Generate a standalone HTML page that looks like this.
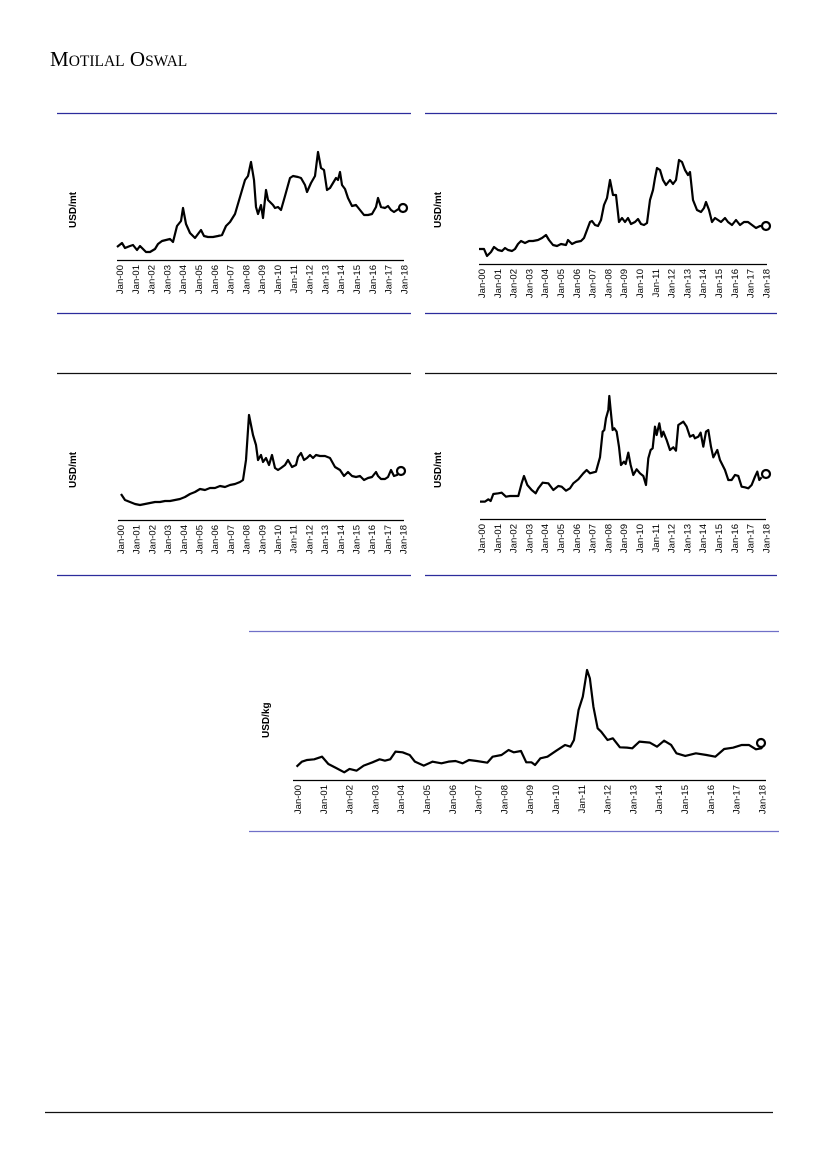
<!DOCTYPE html>
<html><head><meta charset="utf-8"><style>
body{margin:0;background:#fff}
svg{display:block}
text{font-family:"Liberation Sans",sans-serif;fill:#000}
</style></head><body>
<svg width="827" height="1169" viewBox="0 0 827 1169" xmlns="http://www.w3.org/2000/svg">
<text x="50" y="66" style="font-family:'Liberation Serif',serif" font-size="21">M<tspan font-size="15.5">OTILAL</tspan> O<tspan font-size="15.5">SWAL</tspan></text>

<!-- rules -->
<g stroke="#2c2c9c" stroke-width="1.3">
<line x1="57" y1="113.5" x2="411" y2="113.5"/><line x1="57" y1="313.5" x2="411" y2="313.5"/>
<line x1="425" y1="113.5" x2="777" y2="113.5"/><line x1="425" y1="313.5" x2="777" y2="313.5"/>
<line x1="57" y1="373.5" x2="411" y2="373.5" stroke="#111"/><line x1="57" y1="575.5" x2="411" y2="575.5"/>
<line x1="425" y1="373.5" x2="777" y2="373.5" stroke="#111"/><line x1="425" y1="575.5" x2="777" y2="575.5"/>
<line x1="249" y1="631.5" x2="779" y2="631.5" stroke="#7070c8"/><line x1="249" y1="831.5" x2="779" y2="831.5" stroke="#7070c8"/>
</g>
<line x1="45" y1="1112.5" x2="773" y2="1112.5" stroke="#111" stroke-width="1.2"/>

<!-- axes -->
<g stroke="#000" stroke-width="1.2">
<line x1="117" y1="260.5" x2="404" y2="260.5"/>
<line x1="479" y1="264.5" x2="767" y2="264.5"/>
<line x1="118" y1="520.5" x2="404" y2="520.5"/>
<line x1="480" y1="519.5" x2="766" y2="519.5"/>
<line x1="293" y1="780.5" x2="766" y2="780.5"/>
</g>

<g font-size="10" font-weight="bold">
<text transform="translate(76,228) rotate(-90)">USD/mt</text>
<text transform="translate(441,228) rotate(-90)">USD/mt</text>
<text transform="translate(76,488) rotate(-90)">USD/mt</text>
<text transform="translate(441,488) rotate(-90)">USD/mt</text>
<text transform="translate(269,738) rotate(-90)">USD/kg</text>
</g>

<g fill="none" stroke="#000" stroke-width="2.2" stroke-linejoin="round">
<polyline points="117,247 122,243 125,248 130,246 133,245 137,250 140,246 143,249 146,252 150,252 155,249 158,244 162,241 166,240 170,239 173,242 177,226 181,221 183,208 186,224 190,233 195,238 198,234 201,230 204,236 208,237 213,237 218,236 222,235 226,226 230,222 235,214 240,197 245,180 248,176 251,162 254,180 256,207 258,214 261,205 263,218 266,190 268,200 271,203 273,205 275,208 278,207 281,210 285,196 290,178 293,176 298,177 301,178 305,185 307,192 311,183 315,176 318,152 321,168 324,170 327,190 330,188 333,183 336,178 338,180 340,172 342,185 345,189 348,198 352,206 356,205 360,210 364,215 368,215 372,214 376,207 378,198 381,207 385,208 388,206 391,210 394,212 397,210 400,208"/>
<polyline points="479,249 484,249 487,256 491,252 494,247 498,250 502,251 505,248 508,250 512,251 515,249 518,244 521,241 525,243 529,241 533,241 538,240 542,238 546,235 549,240 553,245 557,246 561,244 566,245 568,240 572,244 576,242 581,241 584,238 587,230 590,222 592,221 595,225 598,226 601,220 604,205 607,198 610,180 613,195 616,195 619,222 622,218 625,222 628,218 631,224 635,222 638,219 641,224 644,225 647,223 650,200 653,190 655,178 657,168 660,170 663,180 666,185 670,180 673,184 676,180 679,160 682,162 685,170 688,175 690,172 693,200 697,210 701,212 704,208 706,202 709,210 712,222 715,218 718,220 721,222 725,218 728,222 732,225 736,220 740,225 744,222 748,222 752,225 756,228 760,226 763,226"/>
<polyline points="121,494 125,500 130,502 135,504 140,505 145,504 150,503 155,502 160,502 165,501 170,501 175,500 180,499 185,497 190,494 195,492 200,489 205,490 210,488 215,488 220,486 225,487 230,485 235,484 240,482 243,480 246,460 248,430 249,415 251,425 253,435 256,445 258,460 261,455 263,462 266,458 269,465 272,455 275,468 278,470 281,468 285,465 288,460 292,467 296,465 298,457 301,453 304,460 307,458 310,455 313,458 316,455 320,456 325,456 330,458 335,467 340,470 344,476 348,472 352,476 356,477 360,476 364,480 368,478 372,477 376,472 378,476 381,479 385,479 388,477 391,470 394,476 397,475 398,473"/>
<g transform="translate(420,370) scale(0.3333)">
<polyline vector-effect="non-scaling-stroke" points="180,395 195,395 205,388 212,393 220,372 235,370 245,368 258,380 270,378 295,378 305,340 312,318 322,345 335,360 347,370 355,355 368,338 385,340 400,360 415,348 425,350 438,362 450,355 460,340 475,328 490,310 500,300 510,310 528,305 540,262 548,185 553,180 558,145 565,120 568,78 572,120 578,180 583,175 590,185 597,230 603,285 612,275 617,282 625,248 632,285 640,315 650,298 660,310 670,318 678,345 685,265 692,240 698,235 705,170 710,195 718,160 725,200 730,185 740,210 750,240 760,232 768,242 775,165 790,155 800,170 810,200 820,195 825,205 835,200 842,188 850,230 858,185 865,180 873,230 880,262 892,240 900,270 915,300 925,330 935,330 945,315 955,318 965,350 975,352 985,355 995,345 1005,320 1012,305 1018,330 1025,322"/>
</g>
<g transform="translate(240,620) scale(0.3534,0.3333)">
<polyline vector-effect="non-scaling-stroke" points="160,440 175,425 190,420 210,418 232,410 250,432 270,443 295,457 310,447 330,452 350,437 375,427 395,418 410,422 425,418 440,395 460,397 480,405 495,425 520,437 545,425 570,430 590,425 610,423 630,430 648,420 670,423 700,428 715,410 740,405 760,390 775,397 795,393 810,427 825,427 835,435 850,415 870,410 895,392 920,375 935,380 945,360 958,270 970,230 982,150 990,175 1000,260 1012,325 1022,335 1040,360 1055,355 1075,382 1095,383 1110,385 1130,365 1160,368 1180,380 1200,362 1220,375 1235,400 1260,408 1290,400 1320,405 1345,410 1370,387 1395,383 1420,375 1440,375 1460,388 1475,385 1480,378"/>
</g>
<circle cx="403" cy="208" r="4" fill="#fff"/>
<circle cx="766" cy="226" r="4" fill="#fff"/>
<circle cx="401" cy="471" r="4" fill="#fff"/>
<circle cx="766" cy="474" r="4" fill="#fff"/>
<circle cx="761" cy="743" r="4" fill="#fff"/>
</g>

<g font-size="9.5" text-anchor="end">
<text transform="translate(123,265) rotate(-90)">Jan-00</text><text transform="translate(138.8,265) rotate(-90)">Jan-01</text><text transform="translate(154.6,265) rotate(-90)">Jan-02</text><text transform="translate(170.4,265) rotate(-90)">Jan-03</text><text transform="translate(186.2,265) rotate(-90)">Jan-04</text><text transform="translate(202,265) rotate(-90)">Jan-05</text><text transform="translate(217.8,265) rotate(-90)">Jan-06</text><text transform="translate(233.6,265) rotate(-90)">Jan-07</text><text transform="translate(249.4,265) rotate(-90)">Jan-08</text><text transform="translate(265.2,265) rotate(-90)">Jan-09</text><text transform="translate(281,265) rotate(-90)">Jan-10</text><text transform="translate(296.8,265) rotate(-90)">Jan-11</text><text transform="translate(312.6,265) rotate(-90)">Jan-12</text><text transform="translate(328.4,265) rotate(-90)">Jan-13</text><text transform="translate(344.2,265) rotate(-90)">Jan-14</text><text transform="translate(360,265) rotate(-90)">Jan-15</text><text transform="translate(375.8,265) rotate(-90)">Jan-16</text><text transform="translate(391.6,265) rotate(-90)">Jan-17</text><text transform="translate(407.4,265) rotate(-90)">Jan-18</text>
</g>
<g font-size="9.5" text-anchor="end">
<text transform="translate(485,269) rotate(-90)">Jan-00</text><text transform="translate(500.8,269) rotate(-90)">Jan-01</text><text transform="translate(516.6,269) rotate(-90)">Jan-02</text><text transform="translate(532.4,269) rotate(-90)">Jan-03</text><text transform="translate(548.2,269) rotate(-90)">Jan-04</text><text transform="translate(564,269) rotate(-90)">Jan-05</text><text transform="translate(579.8,269) rotate(-90)">Jan-06</text><text transform="translate(595.6,269) rotate(-90)">Jan-07</text><text transform="translate(611.4,269) rotate(-90)">Jan-08</text><text transform="translate(627.2,269) rotate(-90)">Jan-09</text><text transform="translate(643,269) rotate(-90)">Jan-10</text><text transform="translate(658.8,269) rotate(-90)">Jan-11</text><text transform="translate(674.6,269) rotate(-90)">Jan-12</text><text transform="translate(690.4,269) rotate(-90)">Jan-13</text><text transform="translate(706.2,269) rotate(-90)">Jan-14</text><text transform="translate(722,269) rotate(-90)">Jan-15</text><text transform="translate(737.8,269) rotate(-90)">Jan-16</text><text transform="translate(753.6,269) rotate(-90)">Jan-17</text><text transform="translate(769.4,269) rotate(-90)">Jan-18</text>
</g>
<g font-size="9.5" text-anchor="end">
<text transform="translate(124,525) rotate(-90)">Jan-00</text><text transform="translate(139.7,525) rotate(-90)">Jan-01</text><text transform="translate(155.4,525) rotate(-90)">Jan-02</text><text transform="translate(171.1,525) rotate(-90)">Jan-03</text><text transform="translate(186.8,525) rotate(-90)">Jan-04</text><text transform="translate(202.5,525) rotate(-90)">Jan-05</text><text transform="translate(218.2,525) rotate(-90)">Jan-06</text><text transform="translate(233.9,525) rotate(-90)">Jan-07</text><text transform="translate(249.6,525) rotate(-90)">Jan-08</text><text transform="translate(265.3,525) rotate(-90)">Jan-09</text><text transform="translate(281,525) rotate(-90)">Jan-10</text><text transform="translate(296.7,525) rotate(-90)">Jan-11</text><text transform="translate(312.4,525) rotate(-90)">Jan-12</text><text transform="translate(328.1,525) rotate(-90)">Jan-13</text><text transform="translate(343.8,525) rotate(-90)">Jan-14</text><text transform="translate(359.5,525) rotate(-90)">Jan-15</text><text transform="translate(375.2,525) rotate(-90)">Jan-16</text><text transform="translate(390.9,525) rotate(-90)">Jan-17</text><text transform="translate(406.6,525) rotate(-90)">Jan-18</text>
</g>
<g font-size="9.5" text-anchor="end">
<text transform="translate(485,524) rotate(-90)">Jan-00</text><text transform="translate(500.8,524) rotate(-90)">Jan-01</text><text transform="translate(516.6,524) rotate(-90)">Jan-02</text><text transform="translate(532.4,524) rotate(-90)">Jan-03</text><text transform="translate(548.2,524) rotate(-90)">Jan-04</text><text transform="translate(564,524) rotate(-90)">Jan-05</text><text transform="translate(579.8,524) rotate(-90)">Jan-06</text><text transform="translate(595.6,524) rotate(-90)">Jan-07</text><text transform="translate(611.4,524) rotate(-90)">Jan-08</text><text transform="translate(627.2,524) rotate(-90)">Jan-09</text><text transform="translate(643,524) rotate(-90)">Jan-10</text><text transform="translate(658.8,524) rotate(-90)">Jan-11</text><text transform="translate(674.6,524) rotate(-90)">Jan-12</text><text transform="translate(690.4,524) rotate(-90)">Jan-13</text><text transform="translate(706.2,524) rotate(-90)">Jan-14</text><text transform="translate(722,524) rotate(-90)">Jan-15</text><text transform="translate(737.8,524) rotate(-90)">Jan-16</text><text transform="translate(753.6,524) rotate(-90)">Jan-17</text><text transform="translate(769.4,524) rotate(-90)">Jan-18</text>
</g>
<g font-size="9.5" text-anchor="end">
<text transform="translate(301,785) rotate(-90)">Jan-00</text><text transform="translate(326.8,785) rotate(-90)">Jan-01</text><text transform="translate(352.6,785) rotate(-90)">Jan-02</text><text transform="translate(378.4,785) rotate(-90)">Jan-03</text><text transform="translate(404.2,785) rotate(-90)">Jan-04</text><text transform="translate(430,785) rotate(-90)">Jan-05</text><text transform="translate(455.8,785) rotate(-90)">Jan-06</text><text transform="translate(481.6,785) rotate(-90)">Jan-07</text><text transform="translate(507.4,785) rotate(-90)">Jan-08</text><text transform="translate(533.2,785) rotate(-90)">Jan-09</text><text transform="translate(559,785) rotate(-90)">Jan-10</text><text transform="translate(584.8,785) rotate(-90)">Jan-11</text><text transform="translate(610.6,785) rotate(-90)">Jan-12</text><text transform="translate(636.4,785) rotate(-90)">Jan-13</text><text transform="translate(662.2,785) rotate(-90)">Jan-14</text><text transform="translate(688,785) rotate(-90)">Jan-15</text><text transform="translate(713.8,785) rotate(-90)">Jan-16</text><text transform="translate(739.6,785) rotate(-90)">Jan-17</text><text transform="translate(765.4,785) rotate(-90)">Jan-18</text>
</g>
</svg>
</body></html>
